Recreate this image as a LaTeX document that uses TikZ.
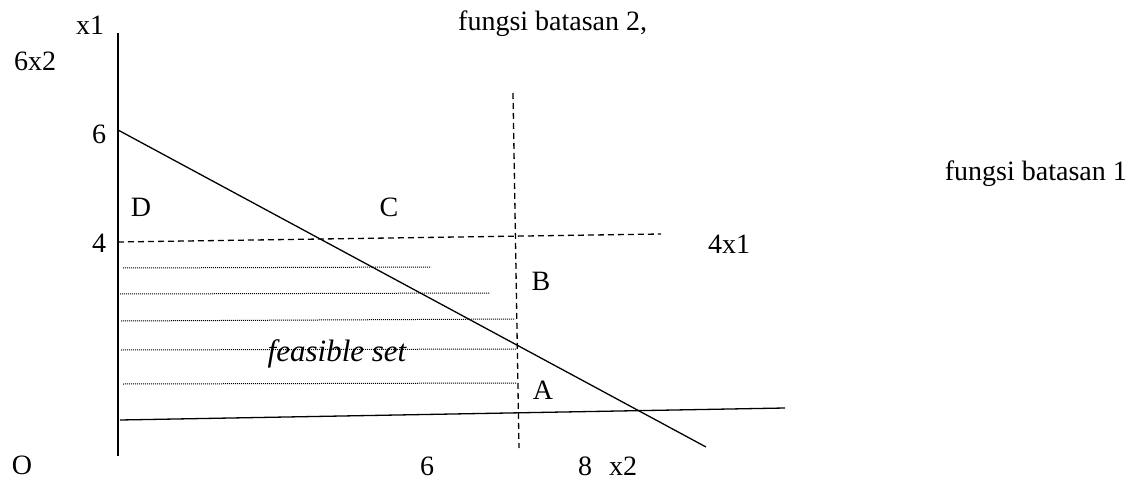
\documentclass[tikz,border=0pt]{standalone}
\usepackage{fontspec}
\setmainfont{Liberation Serif}
\begin{document}
\begin{tikzpicture}[x=1pt,y=-1pt,
  lbl/.style={inner sep=0pt,font=\fontsize{28}{30}\selectfont},
  solidline/.style={line width=1.3pt},
  dashline/.style={line width=1.3pt,dash pattern=on 6pt off 4pt},
  dotline/.style={line width=1pt,dash pattern=on 1pt off 1pt}]
\useasboundingbox (0,0) rectangle (1132,481);
% coordinates
\coordinate (yt) at (118,33);
\coordinate (yb) at (118,456);
\coordinate (d1) at (118,130);
\coordinate (d2) at (706,447);
\coordinate (h1) at (120,420);
\coordinate (h2) at (785,408);
\coordinate (v1) at (513,93);
\coordinate (v2) at (519,448);
\coordinate (f1) at (118,242);
\coordinate (f2) at (661,234);
% lines
\draw[solidline] (yt) -- (yb);
\draw[solidline] (d1) -- (d2);
\draw[solidline] (h1) -- (h2);
\draw[dashline] (v1) -- (v2);
\draw[dashline] (f1) -- (f2);
\coordinate (p1a) at (123,268); \coordinate (p1b) at (431,267);
\coordinate (p2a) at (120,294); \coordinate (p2b) at (490,293);
\coordinate (p3a) at (121,321); \coordinate (p3b) at (515,319);
\coordinate (p4a) at (121,350); \coordinate (p4b) at (516,349);
\coordinate (p5a) at (123,384); \coordinate (p5b) at (516,383);
\draw[dotline] (p1a) -- (p1b);
\draw[dotline] (p2a) -- (p2b);
\draw[dotline] (p3a) -- (p3b);
\draw[dotline] (p4a) -- (p4b);
\draw[dotline] (p5a) -- (p5b);
% labels
\node[lbl] (lx1) at (90,25) {x1};
\node[lbl] (l6x2) at (35,61) {6x2};
\node[lbl] (l6a) at (99,134) {6};
\node[lbl] (lD) at (141,207) {D};
\node[lbl] (lC) at (389,207) {C};
\node[lbl] (l4) at (99,243) {4};
\node[lbl] (l4x1) at (729,244) {4x1};
\node[lbl] (lB) at (541,281) {B};
\node[lbl,font=\fontsize{31}{33}\selectfont\itshape] (lfs) at (337,354) {feasible set};
\node[lbl] (lA) at (543,390) {A};
\node[lbl] (lO) at (22,465) {O};
\node[lbl] (l6b) at (427,466) {6};
\node[lbl,anchor=base west] (l8) at (578,475) {8\hspace{0.6em}x2};
\node[lbl,anchor=base west] (lf2) at (458,31) {fungsi batasan 2,};
\node[lbl,anchor=base east] (lf1) at (1127,181) {fungsi batasan 1};
\end{tikzpicture}
\end{document}
